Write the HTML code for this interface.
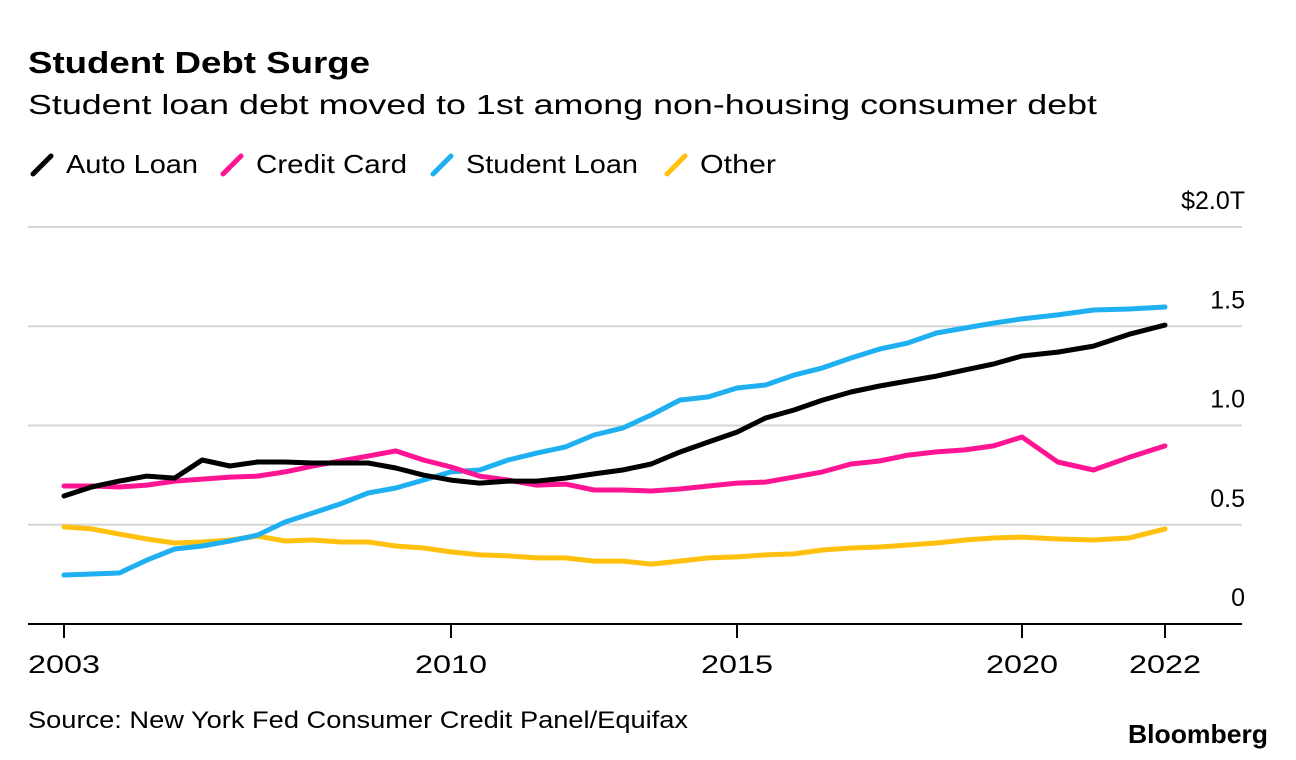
<!DOCTYPE html>
<html><head><meta charset="utf-8"><style>
body{margin:0;background:#fff;font-family:"Liberation Sans",sans-serif;}
#wrap{position:relative;width:1296px;height:760px;overflow:hidden;background:#fff}
</style></head><body>
<div id="wrap">
<svg id="chart" width="1296" height="760" style="position:absolute;left:0;top:0">
<text x="28" y="73" font-size="31" font-weight="bold" fill="#000" textLength="342" lengthAdjust="spacingAndGlyphs">Student Debt Surge</text>
<text x="28" y="114" font-size="28" fill="#000" textLength="1069" lengthAdjust="spacingAndGlyphs">Student loan debt moved to 1st among non-housing consumer debt</text>
<g id="legend"></g>
<g id="grid"></g>
<g id="series"></g>
<g id="xaxis"></g>
<text x="28" y="728" font-size="24" fill="#000" textLength="660" lengthAdjust="spacingAndGlyphs">Source: New York Fed Consumer Credit Panel/Equifax</text>
<text x="1128" y="743" font-size="26" font-weight="bold" fill="#000" textLength="140" lengthAdjust="spacingAndGlyphs">Bloomberg</text>
</svg>
</div>
<script>
const years = [2003,2003.5,2004,2004.5,2005,2005.5,2006,2006.5,2007,2007.5,2008,2008.5,2009,2009.5,2010,2010.5,2011,2011.5,2012,2012.5,2013,2013.5,2014,2014.5,2015,2015.5,2016,2016.5,2017,2017.5,2018,2018.5,2019,2019.5,2020,2020.5,2021,2021.5,2022];
const autoLoan = [.645,.69,.72,.745,.735,.826,.796,.816,.816,.811,.811,.811,.786,.75,.725,.71,.72,.72,.735,.756,.776,.806,.866,.917,.967,1.038,1.078,1.128,1.169,1.199,1.224,1.249,1.28,1.31,1.35,1.37,1.40,1.46,1.506];
const creditCard = [.695,.695,.69,.70,.72,.73,.74,.745,.766,.796,.821,.846,.872,.826,.791,.745,.725,.70,.705,.675,.675,.67,.68,.695,.71,.715,.74,.766,.806,.821,.851,.867,.877,.897,.942,.816,.776,.84,.897];
const studentLoan = [.247,.252,.257,.322,.378,.393,.418,.448,.514,.559,.605,.66,.685,.725,.766,.776,.826,.861,.892,.952,.987,1.053,1.128,1.144,1.189,1.204,1.254,1.29,1.34,1.385,1.416,1.466,1.491,1.516,1.537,1.557,1.582,1.587,1.597];
const other = [.489,.479,.453,.428,.408,.413,.423,.443,.418,.423,.413,.413,.393,.383,.363,.348,.343,.333,.333,.317,.317,.302,.317,.333,.338,.348,.353,.373,.383,.388,.398,.408,.423,.433,.438,.428,.423,.433,.479];
const seriesNames = ["Auto Loan","Credit Card","Student Loan","Other"];
const seriesColors = ["#000000","#ff1493","#1eb0f0","#ffc10e"];
const yTicks = [0,0.5,1.0,1.5,2.0];
const yTickLabels = ["0","0.5","1.0","1.5","$2.0T"];
const xTicks = [2003,2010,2015,2020,2022];
const xTickLabels = ["2003","2010","2015","2020","2022"];

const NS="http://www.w3.org/2000/svg";
const xR=[64,451,737,1022,1165];
function xScale(yr){
  for(let i=0;i<xTicks.length-1;i++){
    if(yr<=xTicks[i+1]||i===xTicks.length-2){
      return xR[i]+(yr-xTicks[i])/(xTicks[i+1]-xTicks[i])*(xR[i+1]-xR[i]);
    }
  }
}
function yScale(v){return 624-v*198.5;}
function mk(tag,attrs,parent){const e=document.createElementNS(NS,tag);for(const k in attrs)e.setAttribute(k,attrs[k]);parent.appendChild(e);return e;}

const grid=document.getElementById('grid');
yTicks.forEach((t,i)=>{
  if(t>0){
    const l=mk('line',{x1:28,x2:1242,y1:yScale(t),y2:yScale(t),stroke:'#d6d6d6','stroke-width':2},grid);
    
    
  }
  const tx=mk('text',{x:1245,y:yScale(t)-18,'font-size':25,'text-anchor':'end',fill:'#000'},grid);
  tx.textContent=yTickLabels[i];
  
  
});

const sg=document.getElementById('series');
[autoLoan,creditCard,studentLoan,other].slice().reverse().forEach((arr,ri)=>{
  const idx=3-ri;
  const d=arr.map((v,i)=>(i?'L':'M')+xScale(years[i]).toFixed(1)+','+yScale(v).toFixed(1)).join('');
  const p=mk('path',{d:d,fill:'none',stroke:seriesColors[idx],'stroke-width':5,'stroke-linejoin':'round','stroke-linecap':'round'},sg);
  
  
});

const xa=document.getElementById('xaxis');
const ax=mk('line',{x1:28,x2:1242,y1:624,y2:624,stroke:'#000','stroke-width':2},xa);


xTicks.forEach((t,i)=>{
  const x=xScale(t);
  const tk=mk('line',{x1:x,x2:x,y1:624,y2:638,stroke:'#000','stroke-width':2},xa);
  
  
  const tx=mk('text',{x:x,y:673,'font-size':25,'text-anchor':'middle',fill:'#000',textLength:72,lengthAdjust:'spacingAndGlyphs'},xa);
  tx.textContent=xTickLabels[i];
  
  
});

const lg=document.getElementById('legend');
const lx=[30,220,430,664];
const lw=[132,151,172,76];
seriesNames.forEach((n,i)=>{
  const g=mk('g',{},lg);
  
  
  mk('line',{x1:lx[i]+3,y1:174,x2:lx[i]+21,y2:156,stroke:seriesColors[i],'stroke-width':5,'stroke-linecap':'round'},g);
  const t=mk('text',{x:lx[i]+36,y:173,'font-size':26,fill:'#000',textLength:lw[i],lengthAdjust:'spacingAndGlyphs'},g);
  t.textContent=n;
});
</script>
</body></html>
